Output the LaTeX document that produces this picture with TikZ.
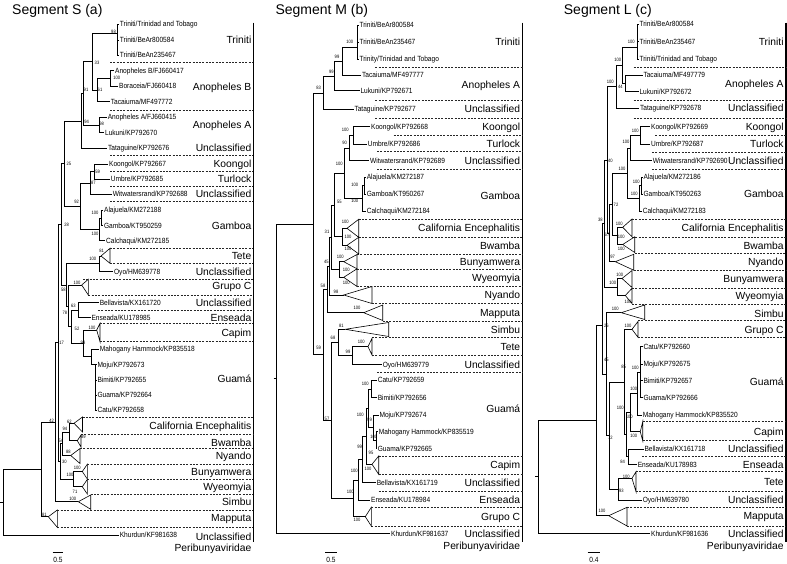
\documentclass[tikz,border=0pt]{standalone}
\usepackage{fontspec}
\setmainfont{Liberation Sans}
\newfontfamily\leaffont[FakeStretch=0.88]{Liberation Sans}
\newfontfamily\bsfont[FakeStretch=0.85]{Liberation Sans}
\newcount\lblcount
\tikzset{
  br/.style={draw=black,line width=0.8pt},
  dsh/.style={draw=black!85,line width=0.5pt,dash pattern=on 2pt off 1.3pt},
  tri/.style={draw=black,line width=0.6pt,fill=white},
  bar/.style={draw=black,line width=1.3pt},
  leaf/.style={font=\leaffont\fontsize{7.5}{7.5}\selectfont,anchor=west,inner sep=0.6pt,text height=5.4pt,text depth=0pt},
  bsl/.style={font=\bsfont\fontsize{4.8}{4.8}\selectfont,inner sep=0pt,anchor=center},
  clade/.style={font=\fontsize{10.3}{10.3}\selectfont,anchor=east,inner sep=0pt,text height=7.4pt,text depth=0pt},
  title/.style={font=\fontsize{14}{14}\selectfont,anchor=base west,inner sep=0pt},
  sbar/.style={draw=black,line width=0.6pt},
  stext/.style={font=\leaffont\fontsize{7.5}{7.5}\selectfont,inner sep=0pt,anchor=center}
}
\newcommand\bs[3]{\global\advance\lblcount by 1\relax\node[bsl] (bs\the\lblcount) at (#1,#2) {#3};}
\newcommand\cl[3]{\global\advance\lblcount by 1\relax\node[clade] (cl\the\lblcount) at (#1,#2) {#3};}
\newcommand\kids[2]{\foreach \k in {#2}{\draw[br] (#1) |- (\k);}}
\newcommand\tri[6]{\coordinate (#1) at (#2,#3); \draw[tri] (#1) -- (#4,#5) -- (#4,#6) -- cycle;}
\newcommand\dl[3]{\draw[dsh] (#1,#2) -- (#3,#2);}
\newcommand\dA[2]{\dl{#1}{#2}{253.3}}
\newcommand\dB[2]{\dl{#1}{#2}{522.5}}
\newcommand\dC[2]{\dl{#1}{#2}{786}}
\newcommand\clA[2]{\cl{251.5}{#1}{#2}}
\newcommand\clB[2]{\cl{520.3}{#1}{#2}}
\newcommand\clC[2]{\cl{783.8}{#1}{#2}}
\begin{document}
\begin{tikzpicture}[x=1pt,y=-1pt]
\useasboundingbox (0,0) rectangle (787,564);
% ================= PANEL A =================
\node[title] (tA) at (12,15) {Segment S (a)};
\coordinate (barAt) at (253.3,22.7); \coordinate (barAb) at (253.3,541.7);
\draw[bar] (barAt) -- (barAb);
\dA{110}{62.3}\dA{110}{110}\dA{110}{155}\dA{110}{171.7}\dA{110}{186.7}\dA{110}{201.7}
\dA{110}{248.3}\dA{110}{263.3}\dA{83}{279.3}\dA{88.3}{295}\dA{98}{310}\dA{100}{323.3}\dA{100}{341.7}
\dA{82.5}{417}\dA{81}{434}\dA{80}{448.5}\dA{87.3}{464.3}\dA{87.3}{479.3}\dA{90.7}{494.5}\dA{57.3}{510}\dA{57.3}{527.3}
\node[leaf] (a1) at (119,24.3) {Triniti/Trinidad and Tobago};
\node[leaf] (a2) at (119,40) {Triniti/BeAr800584};
\node[leaf] (a3) at (119,55.3) {Triniti/BeAn235467};
\node[leaf] (a4) at (114.3,70.7) {Anopheles B/FJ660417};
\node[leaf] (a5) at (118.3,86) {Boraceia/FJ660418};
\node[leaf] (a6) at (110,101.7) {Tacaiuma/MF497772};
\node[leaf] (a7) at (107,117.3) {Anopheles A/FJ660415};
\node[leaf] (a8) at (104.3,132.7) {Lukuni/KP792670};
\node[leaf] (a9) at (107.3,148.3) {Tataguine/KP792676};
\node[leaf] (a10) at (108.3,164) {Koongol/KP792667};
\node[leaf] (a11) at (110,179.3) {Umbre/KP792685};
\node[leaf] (a12) at (112,194.3) {Witwatersrand/KP792688};
\node[leaf] (a13) at (103.3,210) {Alajuela/KM272188};
\node[leaf] (a14) at (103.3,225.7) {Gamboa/KT950259};
\node[leaf] (a15) at (105.3,240.7) {Calchaqui/KM272185};
\node[leaf] (a16) at (113.3,271.7) {Oyo/HM639778};
\node[leaf] (a17) at (99,302.7) {Bellavista/KX161720};
\node[leaf] (a18) at (90.7,317.7) {Enseada/KU178985};
\node[leaf] (a19) at (99,349) {Mahogany Hammock/KP835518};
\node[leaf] (a20) at (96.7,364.3) {Moju/KP792673};
\node[leaf] (a21) at (96.7,380) {Bimiti/KP792655};
\node[leaf] (a22) at (96.7,395) {Guama/KP792664};
\node[leaf] (a23) at (96.7,410) {Catu/KP792658};
\node[leaf] (a24) at (119,535) {Khurdun/KF981638};
\coordinate (AT) at (117,33); \kids{AT}{a1.west,a2.west,a3.west}
\coordinate (AAB) at (110,78); \kids{AAB}{a4.west,a5.west}
\coordinate (A61) at (97,90); \kids{A61}{AAB,a6.west}
\coordinate (A33) at (92,61.5); \kids{A33}{AT,A61}
\coordinate (AAA) at (99.3,125); \kids{AAA}{a7.west,a8.west}
\coordinate (A91) at (83.3,93); \kids{A91}{A33,AAA}
\coordinate (A94) at (81.7,121); \kids{A94}{A91,a9.west}
\coordinate (A59) at (94,171.7); \kids{A59}{a10.west,a11.west}
\coordinate (A87) at (90,183); \kids{A87}{A59,a12.west}
\coordinate (AGi) at (101,218); \kids{AGi}{a13.west,a14.west}
\coordinate (AGo) at (99,229.3); \kids{AGo}{AGi,a15.west}
\coordinate (A92) at (80,206); \kids{A92}{A87,AGo}
\coordinate (A25) at (64.5,163); \kids{A25}{A94,A92}
\coordinate (ATetA) at (101,256);
\coordinate (ATO) at (99.3,263.5); \kids{ATO}{ATetA,a16.west}
\coordinate (A63) at (78.3,310); \kids{A63}{a17.west,a18.west}
\coordinate (AG1) at (95,364.3); \kids{AG1}{a20.west,a21.west,a22.west,a23.west}
\coordinate (AG) at (91.7,356); \kids{AG}{a19.west,AG1}
\coordinate (ACapA) at (96.7,330);
\coordinate (A98) at (83.3,343); \kids{A98}{ACapA,AG}
\coordinate (A52) at (71.7,326.5); \kids{A52}{A63,A98}
\coordinate (AGrCA) at (81.7,285);
\coordinate (A78) at (68.7,306); \kids{A78}{AGrCA,A52}
\coordinate (A58) at (66.7,285); \kids{A58}{ATO,A78}
\coordinate (A28) at (61,224); \kids{A28}{A25,A58}
\coordinate (ACEA) at (74,423.3); \coordinate (ABwaA) at (77.3,440.7);
\coordinate (A94b) at (69,432); \kids{A94b}{ACEA,ABwaA}
\coordinate (ANyaA) at (70.7,455.5);
\coordinate (A54) at (62.5,443.5); \kids{A54}{A94b,ANyaA}
\coordinate (ABunA) at (82.3,471.5); \coordinate (AWyeA) at (82.3,486.7);
\coordinate (ABW) at (73.3,479); \kids{ABW}{ABunA,AWyeA}
\coordinate (A30) at (60,461); \kids{A30}{A54,ABW}
\coordinate (A17) at (58,342.5); \kids{A17}{A28,A30}
\coordinate (ASimA) at (78.3,501.7);
\coordinate (A42) at (55,422); \kids{A42}{A17,ASimA}
\coordinate (AMapA) at (48.3,516.7);
\coordinate (AR1) at (41.7,469); \kids{AR1}{A42,AMapA}
\coordinate (ARoot) at (3.3,502); \kids{ARoot}{AR1,a24.west}
\coordinate (AStub) at (0,502); \draw[br] (AStub) -- (ARoot);
\tri{ATete}{101}{256}{110}{248.3}{263.3}
\tri{AGrC}{81.7}{285}{88.3}{279.3}{295}
\tri{ACap}{96.7}{330}{100}{323.3}{341.7}
\tri{ACE}{74}{423.3}{82.5}{417}{432}
\tri{ABwa}{77.3}{440.7}{81}{435}{447}
\tri{ANya}{70.7}{455.5}{80}{448.5}{463.5}
\tri{ABun}{82.3}{471.5}{87.3}{464.3}{479}
\tri{AWye}{82.3}{486.7}{87.3}{479.5}{494}
\tri{ASim}{78.3}{501.7}{90.7}{495}{509.3}
\tri{AMap}{48.3}{516.7}{57.3}{510}{527.3}
\bs{113.5}{31.7}{98}\bs{97}{63}{33}\bs{116.7}{78}{100}\bs{100}{90}{61}\bs{86}{90}{91}
\bs{86.7}{121.7}{94}\bs{101.7}{124}{98}\bs{69}{164}{25}\bs{97.7}{171.7}{59}\bs{93.3}{182.7}{87}
\bs{76.7}{201.7}{92}\bs{95}{212.7}{100}\bs{95}{234}{100}\bs{66.7}{225}{28}\bs{101.7}{251}{81}
\bs{92.7}{259}{100}\bs{77}{282.7}{100}\bs{63.3}{290}{58}\bs{73.3}{306}{63}\bs{65}{312.7}{78}
\bs{77}{329.3}{52}\bs{92}{328}{100}\bs{83}{343.3}{98}\bs{61.7}{343.3}{17}\bs{51.7}{420.7}{42}
\bs{69.3}{421.7}{62}\bs{65}{429.3}{94}\bs{83.3}{436.7}{89}\bs{61}{440.7}{54}\bs{68.3}{451.7}{88}
\bs{64.3}{462.3}{30}\bs{77.3}{467.7}{100}\bs{70}{475}{100}\bs{75}{491.7}{71}\bs{72.7}{499}{100}
\bs{44.3}{515}{81}
\clA{40}{Triniti}\clA{87.3}{Anopheles B}\clA{125}{Anopheles A}\clA{148.3}{Unclassified}
\clA{164}{Koongol}\clA{179.3}{Turlock}\clA{194.3}{Unclassified}\clA{225.7}{Gamboa}
\clA{256}{Tete}\clA{271.7}{Unclassified}\clA{286}{Grupo C}\clA{302.7}{Unclassified}
\clA{317.7}{Enseada}\clA{332.7}{Capim}\clA{378.3}{Guamá}\clA{426}{California Encephalitis}
\clA{442.7}{Bwamba}\clA{455.7}{Nyando}\clA{471.7}{Bunyamwera}\clA{486.7}{Wyeomyia}
\clA{501.7}{Simbu}\clA{517.7}{Mapputa}\clA{537}{Unclassified}\clA{548}{Peribunyaviridae}
\coordinate (sA1) at (52.7,552.7); \coordinate (sA2) at (63.3,552.7);
\draw[sbar] (sA1) -- (sA2);
\node[stext] (sAt) at (58,560) {0.5};
% ================= PANEL B =================
\node[title] (tB) at (275.3,15) {Segment M (b)};
\coordinate (barBt) at (522.5,22.7); \coordinate (barBb) at (522.5,541.7);
\draw[bar] (barBt) -- (barBb);
\dB{375.3}{67.7}\dB{375.3}{100}\dB{375.3}{118.3}\dB{393.7}{135}\dB{377}{151.7}\dB{377}{169.3}
\dB{358.7}{219.3}\dB{358.7}{237.3}\dB{357}{254}\dB{357}{268.8}\dB{357}{286.5}\dB{372}{303.5}
\dB{382.7}{320.8}\dB{372}{337.3}\dB{372}{355}\dB{377}{372.7}\dB{378.7}{456}\dB{378.7}{474.3}
\dB{378.7}{491}\dB{371.3}{507.3}\dB{371.3}{526}
\node[leaf] (b1) at (358.7,25) {Triniti/BeAr800584};
\node[leaf] (b2) at (358.7,42.3) {Triniti/BeAn235467};
\node[leaf] (b3) at (358.7,59) {Trinity/Trinidad and Tobago};
\node[leaf] (b4) at (361.3,75) {Tacaiuma/MF497777};
\node[leaf] (b5) at (359.7,90.7) {Lukuni/KP792671};
\node[leaf] (b6) at (353.7,109.3) {Tataguine/KP792677};
\node[leaf] (b7) at (370.3,126.7) {Koongol/KP792668};
\node[leaf] (b8) at (367,144) {Umbre/KP792686};
\node[leaf] (b9) at (369.3,160.7) {Witwatersrand/KP792689};
\node[leaf] (b10) at (366,177.3) {Alajuela/KM272187};
\node[leaf] (b11) at (366,194) {Gamboa/KT950267};
\node[leaf] (b12) at (366,211) {Calchaqui/KM272184};
\node[leaf] (b13) at (382,364.3) {Oyo/HM639779};
\node[leaf] (b14) at (377,380) {Catu/KP792659};
\node[leaf] (b15) at (377,397.7) {Bimiti/KP792656};
\node[leaf] (b16) at (378.7,415) {Moju/KP792674};
\node[leaf] (b17) at (378,431.7) {Mahogany Hammock/KP835519};
\node[leaf] (b18) at (377,448.3) {Guama/KP792665};
\node[leaf] (b19) at (376,482.7) {Bellavista/KX161719};
\node[leaf] (b20) at (370.3,500) {Enseada/KU178984};
\node[leaf] (b21) at (390.3,533.3) {Khurdun/KF981637};
\coordinate (BCEA) at (347,228.3); \coordinate (BBwaA) at (347,245.3);
\coordinate (BBunA) at (343.7,261.7); \coordinate (BWyeA) at (343.7,277.3);
\coordinate (BNyaA) at (343.7,295); \coordinate (BMapA) at (363.7,312.7);
\coordinate (BSimA) at (345.3,329.3); \coordinate (BTetA) at (368,346.7);
\coordinate (BCapA) at (372,464.3); \coordinate (BGrCA) at (365.3,516.7);
\coordinate (BT) at (357,47.7); \kids{BT}{b1.west,b2.west,b3.west}
\coordinate (B99a) at (342,61); \kids{B99a}{BT,b4.west}
\coordinate (B99b) at (334.7,76); \kids{B99b}{B99a,b5.west}
\coordinate (B83) at (323,93.3); \kids{B83}{B99b,b6.west}
\coordinate (BKU) at (353.7,135.3); \kids{BKU}{b7.west,b8.west}
\coordinate (B90) at (349.3,148); \kids{B90}{BKU,b9.west}
\coordinate (BGi) at (364,185.7); \kids{BGi}{b10.west,b11.west}
\coordinate (BGo) at (362,198.3); \kids{BGo}{BGi,b12.west}
\coordinate (B100c) at (344.7,173); \kids{B100c}{B90,BGo}
\coordinate (BCB) at (342,236.7); \kids{BCB}{BCEA,BBwaA}
\coordinate (B55) at (334.7,205); \kids{B55}{B100c,BCB}
\coordinate (BBW) at (339.7,269.5); \kids{BBW}{BBunA,BWyeA}
\coordinate (B31) at (331.3,237); \kids{B31}{B55,BBW}
\coordinate (B45) at (329.5,266); \kids{B45}{B31,BNyaA}
\coordinate (B58) at (327.7,289); \kids{B58}{B45,BMapA}
\coordinate (BTO) at (352.7,355.5); \kids{BTO}{BTetA,b13.west}
\coordinate (B68) at (338,342.4); \kids{B68}{BSimA,BTO}
\coordinate (BCa) at (371,389); \kids{BCa}{b14.west,b15.west}
\coordinate (BMG2) at (376,440); \kids{BMG2}{b17.west,b18.west}
\coordinate (BMG) at (373.5,427.5); \kids{BMG}{b16.west,BMG2}
\coordinate (BGua) at (368,408); \kids{BGua}{BCa,BMG}
\coordinate (B95) at (366,436); \kids{B95}{BGua,BCapA}
\coordinate (B99c) at (362,459.4); \kids{B99c}{B95,b19.west}
\coordinate (BUp) at (358,480); \kids{BUp}{B99c,b20.west}
\coordinate (BLow) at (353.7,498.3); \kids{BLow}{BUp,BGrCA}
\coordinate (B57) at (331.3,420.3); \kids{B57}{B68,BLow}
\coordinate (B59) at (323.7,354.7); \kids{B59}{B58,B57}
\coordinate (BIn) at (313.7,224); \kids{BIn}{B83,B59}
\coordinate (BRoot) at (276,378.7); \kids{BRoot}{BIn,b21.west}
\coordinate (BStub) at (273.7,378.7); \draw[br] (BStub) -- (BRoot);
\tri{BCE}{347}{228.3}{358.7}{219.3}{237.3}
\tri{BBwa}{347}{245.3}{358.7}{237.3}{254}
\tri{BBun}{343.7}{261.7}{357}{254.5}{268.8}
\tri{BWye}{343.7}{277.3}{357}{268.8}{286.5}
\tri{BNya}{343.7}{295}{372}{286.5}{303.5}
\tri{BMap}{363.7}{312.7}{382.7}{305}{320.5}
\tri{BSim}{345.3}{329.3}{388.7}{322.5}{336.5}
\tri{BTete}{368}{346.7}{372}{338.3}{355}
\tri{BCap}{372}{464.3}{378.7}{456}{474.3}
\tri{BGrC}{365.3}{516.7}{371.3}{507.3}{526}
\bs{349.7}{42.3}{100}\bs{337}{56.7}{99}\bs{331.3}{71.7}{99}\bs{318.7}{88.3}{83}
\bs{345.3}{130}{100}\bs{344.7}{143.3}{90}\bs{339.3}{164}{100}\bs{354.7}{185}{100}
\bs{354.7}{200.7}{100}\bs{339.3}{202.3}{55}\bs{345.3}{222.3}{100}\bs{348}{236.7}{100}
\bs{348}{249}{100}\bs{327}{232.3}{31}\bs{340.3}{257.3}{100}\bs{326.3}{261.7}{45}
\bs{346.3}{270}{100}\bs{346.3}{283.3}{100}\bs{323}{286}{58}\bs{336}{292.3}{98}
\bs{357}{308.3}{100}\bs{341.3}{325.7}{81}\bs{333}{338.3}{68}\bs{361.3}{342.3}{100}
\bs{318.7}{348.3}{59}\bs{348}{351.7}{99}\bs{365.3}{384}{100}\bs{360.3}{415}{100}
\bs{369.5}{420}{99}\bs{327}{419.3}{57}\bs{373.7}{436.7}{100}\bs{359.7}{446.7}{99}
\bs{371}{453.3}{95}\bs{368}{469.3}{100}\bs{354.3}{470.7}{100}\bs{350.3}{491.7}{100}
\bs{357}{520}{100}
\clB{42.3}{Triniti}\clB{85}{Anopheles A}\clB{109.3}{Unclassified}\clB{126.7}{Koongol}
\clB{144}{Turlock}\clB{160.7}{Unclassified}\clB{195.7}{Gamboa}\clB{228.3}{California Encephalitis}
\clB{246}{Bwamba}\clB{261.7}{Bunyamwera}\clB{277.3}{Wyeomyia}\clB{295}{Nyando}
\clB{312.7}{Mapputa}\clB{330}{Simbu}\clB{346.7}{Tete}\clB{364.3}{Unclassified}
\clB{408.3}{Guamá}\clB{464.3}{Capim}\clB{482.7}{Unclassified}\clB{500}{Enseada}
\clB{516.7}{Grupo C}\clB{533.3}{Unclassified}\clB{546}{Peribunyaviridae}
\coordinate (sB1) at (325.3,552.7); \coordinate (sB2) at (337,552.7);
\draw[sbar] (sB1) -- (sB2);
\node[stext] (sBt) at (331,560) {0.5};
% ================= PANEL C =================
\node[title] (tC) at (563.7,15) {Segment L (c)};
\coordinate (barCt) at (786,22.7); \coordinate (barCb) at (786,541.7);
\draw[bar] (barCt) -- (barCb);
\dC{633.7}{67.7}\dC{633.7}{100}\dC{633.7}{118.3}\dC{655.3}{135}\dC{652}{152.7}\dC{652}{169.3}
\dC{632}{219}\dC{632}{236.8}\dC{634.7}{253.4}\dC{633.7}{270.3}\dC{632}{288.3}\dC{632}{304.2}
\dC{638}{320.5}\dC{638}{337.3}\dC{642.7}{421.7}\dC{642.7}{440.7}\dC{642}{456.7}
\dC{636}{471.7}\dC{636}{491.7}\dC{627}{507.3}\dC{627}{526}
\node[leaf] (c1) at (638.7,24.3) {Triniti/BeAr800584};
\node[leaf] (c2) at (638.7,41.7) {Triniti/BeAn235467};
\node[leaf] (c3) at (638.7,59) {Triniti/Trinidad and Tobago};
\node[leaf] (c4) at (642.7,75) {Tacaiuma/MF497779};
\node[leaf] (c5) at (638.7,91.7) {Lukuni/KP792672};
\node[leaf] (c6) at (639.3,108.3) {Tataguine/KP792678};
\node[leaf] (c7) at (650.3,126.7) {Koongol/KP792669};
\node[leaf] (c8) at (650.3,144) {Umbre/KP792687};
\node[leaf] (c9) at (652,160.7) {Witwatersrand/KP792690};
\node[leaf] (c10) at (642.7,177.3) {Alajuela/KM272186};
\node[leaf] (c11) at (642.7,194) {Gamboa/KT950263};
\node[leaf] (c12) at (642,211) {Calchaqui/KM272183};
\node[leaf] (c13) at (642.7,346.7) {Catu/KP792660};
\node[leaf] (c14) at (642.7,364) {Moju/KP792675};
\node[leaf] (c15) at (642.7,380.7) {Bimiti/KP792657};
\node[leaf] (c16) at (642.7,397.3) {Guama/KP792666};
\node[leaf] (c17) at (642,415) {Mahogany Hammock/KP835520};
\node[leaf] (c18) at (643.7,449) {Bellavista/KX161718};
\node[leaf] (c19) at (637,464.3) {Enseada/KU178983};
\node[leaf] (c20) at (642,500) {Oyo/HM639780};
\node[leaf] (c21) at (650.3,533.3) {Khurdun/KF981636};
\coordinate (CCEA) at (622.7,227.3); \coordinate (CBwaA) at (622.7,244.5);
\coordinate (CNyaA) at (615.3,261.7); \coordinate (CBunA) at (622,278.5);
\coordinate (CWyeA) at (625.3,295.5); \coordinate (CSimA) at (621.3,312.7);
\coordinate (CGrCA) at (632,329.3); \coordinate (CCapA) at (640.3,431.7);
\coordinate (CTetA) at (632,478.3); \coordinate (CMapA) at (608.7,515.7);
\coordinate (CT) at (637,47.7); \kids{CT}{c1.west,c2.west,c3.west}
\coordinate (CTL) at (625.3,83.3); \kids{CTL}{c4.west,c5.west}
\coordinate (C100a) at (622,65.5); \kids{C100a}{CT,CTL}
\coordinate (C100b) at (616.3,86.9); \kids{C100b}{C100a,c6.west}
\coordinate (CKU) at (640.3,135.3); \kids{CKU}{c7.west,c8.west}
\coordinate (CKUW) at (630,148); \kids{CKUW}{CKU,c9.west}
\coordinate (CGi) at (641,185.7); \kids{CGi}{c10.west,c11.west}
\coordinate (CGo) at (639.3,198.3); \kids{CGo}{CGi,c12.west}
\coordinate (C100g) at (627,173); \kids{C100g}{CKUW,CGo}
\coordinate (CCEB) at (617,235.7); \kids{CCEB}{CCEA,CBwaA}
\coordinate (C72) at (612,204.3); \kids{C72}{C100g,CCEB}
\coordinate (C67) at (609.3,233); \kids{C67}{C72,CNyaA}
\coordinate (C40) at (607,160); \kids{C40}{C100b,C67}
\coordinate (CBW) at (617,287); \kids{CBW}{CBunA,CWyeA}
\coordinate (C38) at (604.7,223.3); \kids{C38}{C40,CBW}
\coordinate (CG1) at (640.3,372); \kids{CG1}{c13.west,c14.west,c15.west,c16.west}
\coordinate (CG) at (637.5,393.5); \kids{CG}{CG1,c17.west}
\coordinate (CGC) at (630,412.6); \kids{CGC}{CG,CCapA}
\coordinate (CBE) at (628,456.7); \kids{CBE}{c18.west,c19.west}
\coordinate (C100x) at (626.5,434.6); \kids{C100x}{CGC,CBE}
\coordinate (C85) at (624,382); \kids{C85}{CGrCA,C100x}
\coordinate (CTO) at (618.7,489.2); \kids{CTO}{CTetA,c20.west}
\coordinate (C72b) at (609.3,435.6); \kids{C72b}{C85,CTO}
\coordinate (C45) at (606.5,374); \kids{C45}{CSimA,C72b}
\coordinate (C26) at (602.5,325); \kids{C26}{C38,C45}
\coordinate (CR1) at (596,420); \kids{CR1}{C26,CMapA}
\coordinate (CRoot) at (538.7,476.7); \kids{CRoot}{CR1,c21.west}
\coordinate (CStub) at (535.3,476.7); \draw[br] (CStub) -- (CRoot);
\tri{CCE}{622.7}{227.3}{632}{219}{236.8}
\tri{CBwa}{622.7}{244.5}{634.7}{236.8}{252.5}
\tri{CNya}{615.3}{261.7}{633.7}{254.3}{270.2}
\tri{CBun}{622}{278.5}{632}{270.5}{287.5}
\tri{CWye}{625.3}{295.5}{632}{288.3}{303.5}
\tri{CSim}{621.3}{312.7}{644.7}{305}{319.5}
\tri{CGrC}{632}{329.3}{638}{321.5}{337.3}
\tri{CCap}{640.3}{431.7}{642.7}{421.7}{440.7}
\tri{CTete}{632}{478.3}{636}{471.7}{491.7}
\tri{CMap}{608.7}{515.7}{627}{507.3}{526}
\bs{631.3}{41.7}{100}\bs{617.7}{60}{100}\bs{620.3}{87.3}{44}\bs{610.3}{81.7}{100}
\bs{635.3}{130.7}{100}\bs{626}{141.7}{100}\bs{610.3}{160.7}{40}\bs{622}{169.3}{100}
\bs{636.3}{182.3}{100}\bs{634.3}{194}{100}\bs{616}{205}{72}\bs{600.3}{220}{38}
\bs{619.3}{224.3}{100}\bs{607}{235}{67}\bs{621.3}{236.7}{100}\bs{621.3}{249}{100}
\bs{612.7}{257.3}{97}\bs{619.7}{275}{100}\bs{612.7}{283.3}{100}\bs{628}{301.7}{100}
\bs{615.3}{309}{100}\bs{606.3}{325.7}{26}\bs{628}{325.7}{100}\bs{606.3}{360}{45}
\bs{623.7}{367.3}{85}\bs{635.3}{368.3}{100}\bs{633.7}{389.3}{100}\bs{620.3}{408.3}{100}
\bs{629.3}{416.7}{100}\bs{633.7}{436}{100}\bs{610.3}{438.3}{72}\bs{622.7}{461.7}{84}
\bs{626.3}{477.3}{100}\bs{621.3}{490.7}{93}\bs{602}{510.7}{100}
\clC{41.7}{Triniti}\clC{84.3}{Anopheles A}\clC{108.3}{Unclassified}\clC{126.7}{Koongol}
\clC{144}{Turlock}\clC{160.7}{Unclassified}\clC{194}{Gamboa}\clC{228.3}{California Encephalitis}
\clC{246}{Bwamba}\clC{261.7}{Nyando}\clC{278.3}{Bunyamwera}\clC{296}{Wyeomyia}
\clC{313.3}{Simbu}\clC{330}{Grupo C}\clC{381.7}{Guamá}\clC{431.7}{Capim}
\clC{449}{Unclassified}\clC{465}{Enseada}\clC{481.7}{Tete}\clC{500}{Unclassified}
\clC{515.7}{Mapputa}\clC{533.3}{Unclassified}\clC{546}{Peribunyaviridae}
\coordinate (sC1) at (587.7,552.7); \coordinate (sC2) at (600.3,552.7);
\draw[sbar] (sC1) -- (sC2);
\node[stext] (sCt) at (594,560) {0.4};
\end{tikzpicture}
\end{document}
